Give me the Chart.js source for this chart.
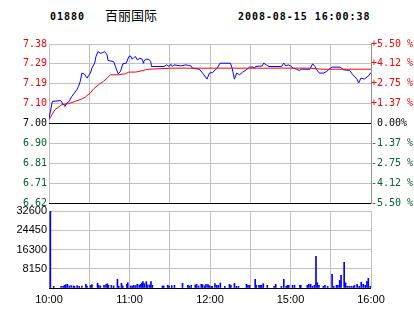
<!DOCTYPE html>
<html><head><meta charset="utf-8">
<script src="https://cdn.jsdelivr.net/npm/chart.js@4"></script>
<style>
html,body{margin:0;padding:0;background:#fff;}
#wrap{position:relative;width:414px;height:314px;overflow:hidden;background:#fff;}
canvas{position:absolute;left:0;top:0;}
.t{position:absolute;top:11px;font:bold 10px "DejaVu Sans Mono";letter-spacing:0.95px;line-height:12px;color:#000;white-space:pre;}
.n{position:absolute;top:5px;left:105px;font:13px "Noto Sans CJK SC";line-height:19px;color:#000;white-space:pre;}
</style></head><body>
<div id="wrap">
<div class="t" id="code" style="left:50px"></div>
<div class="n" id="name"></div>
<div class="t" id="stamp" style="left:238px"></div>
<canvas id="pc" width="414" height="314"></canvas>
<canvas id="vc" width="414" height="314"></canvas>
</div>
<script>
const stockCode = "01880";
const stockName = "百丽国际";
const stamp = "2008-08-15 16:00:38";

// minutes of trading since 10:00 (lunch break removed)
const priceTimes = [0,2.5,8.8,10.7,12,13.3,15,17,19,20.8,22,23.3,24.5,26.5,28.3,29.5,30.8,32,34,35,36.5,38.3,40,41.5,43.3,44,48.2,49.5,51.5,53.3,55,57.5,59.5,60.8,62,63.2,64.5,65.8,67.7,69.5,70.3,70.7,72,74.5,75.8,76.5,85.7,87.8,89.5,90.8,92,93.2,98.3,102,105.8,107,112,114.5,117.8,119.5,122,125.3,127.5,135.2,136.5,138.2,139.9,142,144,147,149.5,152,153.2,154,159,160,162,164,173.3,175,176.5,178.3,180,182,184.5,186.5,188.3,194.5,196.5,198.2,199.5,201.5,204.5,207,208.3,210.8,217,219.5,224,226.5,229.5,230.8,232.5,235,238.3,239.5,240];
const prices = [7.024,7.107,7.111,7.091,7.083,7.100,7.107,7.131,7.148,7.164,7.180,7.204,7.244,7.239,7.220,7.231,7.244,7.268,7.292,7.324,7.348,7.340,7.343,7.348,7.332,7.305,7.300,7.276,7.241,7.252,7.289,7.292,7.324,7.327,7.311,7.319,7.324,7.308,7.316,7.311,7.292,7.300,7.311,7.311,7.300,7.276,7.276,7.284,7.276,7.287,7.276,7.284,7.279,7.284,7.279,7.268,7.263,7.244,7.215,7.244,7.247,7.268,7.292,7.292,7.268,7.215,7.244,7.236,7.247,7.260,7.273,7.273,7.268,7.276,7.279,7.292,7.284,7.276,7.276,7.292,7.279,7.284,7.279,7.268,7.263,7.257,7.263,7.263,7.289,7.276,7.260,7.244,7.244,7.252,7.260,7.273,7.273,7.260,7.257,7.236,7.215,7.196,7.220,7.215,7.231,7.244,7.244];

const avgTimes = [0,4.5,9.5,14.5,19.5,24.5,27,30.8,33.2,37,40.7,43.3,45.8,52,57,59.5,64.5,67,72,74.5,92,135.8,194,203,240];
const avgPrices = [7.019,7.067,7.091,7.096,7.107,7.119,7.128,7.148,7.167,7.188,7.204,7.220,7.236,7.236,7.241,7.249,7.249,7.252,7.260,7.263,7.268,7.268,7.268,7.263,7.263];

const volTimes = [1,3.5,9,10.5,11.5,12.5,13.7,15,16.5,18.2,19,21,22.5,24.5,27.5,28.3,31,32,36.2,37,38.3,41,42.5,43.5,44.3,46.5,48.2,51,52,54,55,58,58.7,60.8,62,63.2,64.5,65.8,67.3,68.5,69.2,70,71,72.5,73.5,75,76,77,84.5,85.5,88.5,89.5,91.5,93.5,99.5,103.5,104.5,106,109,110,111.5,113.5,114.5,116,117,118.5,119.5,121,121.7,123.7,125,126.2,127.7,131,134.5,135.5,138.2,139.7,141.2,147.2,148.3,149.5,153.7,154.5,156.5,157.5,158.5,159.7,162.7,167.8,169,173.2,175,176.8,177.8,178.7,181.5,183,187,187.7,192.5,193.7,195,196.3,197.8,199,200,201.2,204.5,205.7,207.7,211,212.2,214.3,215.3,216.7,217.7,220,221,222.2,223.7,225.2,226.7,227.7,229.7,231.2,232.7,234.2,235.7,237,238,239.5,240];
const volumes = [32600,700,700,700,1100,1400,1550,850,1000,850,700,1000,700,850,1550,850,1100,1400,2000,1100,850,1100,1400,1800,1100,1100,850,3670,700,2000,850,1550,2250,850,850,1130,990,1550,1270,1550,2100,2680,1830,2680,1270,1270,2680,1130,850,850,1130,850,990,1130,1970,1130,850,1130,1270,1550,850,1550,1410,850,1550,1410,990,705,705,1830,1130,1130,2100,705,1550,1130,1970,705,705,1550,1130,1130,3670,1130,1130,1130,1130,1830,1130,705,1550,705,3670,705,1130,1130,1130,1130,1130,1130,1130,1550,1550,705,1130,13400,2250,1130,705,1130,705,5800,705,1130,1130,3250,5350,10900,2250,705,705,705,705,1130,1550,705,2400,1550,1130,2800,4100,705,705];

const priceTickValues = [6.615,6.71125,6.8075,6.90375,7.00,7.09625,7.1925,7.28875,7.385];
const priceTickLabels = ["6.62","6.71","6.81","6.90","7.00","7.10","7.19","7.29","7.38"];
const pctTickLabels = ["-5.50 %","-4.12 %","-2.75 %","-1.37 %"," 0.00%","+1.37 %","+2.75 %","+4.12 %","+5.50 %"];
const volTickValues = [0,8150,16300,24450,32600];
const volTickLabels = ["","8150","16300","24450","32600"];
const timeTickValues = [0,30,60,90,120,150,180,210,240];
const timeTickLabels = ["10:00","","11:00","","12:00","","15:00","","16:00"];

document.getElementById('code').textContent = stockCode;
document.getElementById('name').textContent = stockName;
document.getElementById('stamp').textContent = stamp;

const GRID = '#c0c0c0';
const RED = '#ff0000';
const GREEN = '#006030';
const mono = {family: 'DejaVu Sans Mono', size: 10};
const sans = {family: 'Liberation Sans', size: 11};
const labelColor = (ctx) => ctx.index < 4 ? GREEN : (ctx.index === 4 ? '#000' : RED);

new Chart(document.getElementById('pc'), {
  type: 'line',
  data: {
    datasets: [
      {data: avgTimes.map((t,i)=>({x:t,y:avgPrices[i]})), borderColor: RED, borderWidth: 1, pointRadius: 0, tension: 0, yAxisID: 'y'},
      {data: priceTimes.map((t,i)=>({x:t,y:prices[i]})), borderColor: '#0000ff', borderWidth: 1, pointRadius: 0, tension: 0, yAxisID: 'y'}
    ]
  },
  options: {
    responsive: false, animation: false,
    layout: {padding: {top: 44, bottom: 111, left: 0, right: 0}},
    plugins: {legend: {display: false}, tooltip: {enabled: false}},
    scales: {
      x: {type: 'linear', min: 0, max: 240,
        afterBuildTicks: s => { s.ticks = timeTickValues.map(v=>({value:v})); },
        afterFit: s => { s.height = 0; },
        ticks: {display: false},
        grid: {color: GRID, drawTicks: false},
        border: {display: false}},
      y: {position: 'left', min: 6.615, max: 7.385,
        afterBuildTicks: s => { s.ticks = priceTickValues.map(v=>({value:v})); },
        afterFit: s => { s.width = 49; },
        ticks: {callback: (v,i)=>priceTickLabels[i], color: labelColor, font: mono, padding: 2, autoSkip: false},
        grid: {color: c => (c.index === 0 || c.index === 4) ? '#000' : GRID, drawTicks: false},
        border: {display: false}},
      y2: {position: 'right', min: 6.615, max: 7.385,
        afterBuildTicks: s => { s.ticks = priceTickValues.map(v=>({value:v})); },
        afterFit: s => { s.width = 43; },
        ticks: {callback: (v,i)=>pctTickLabels[i], color: labelColor, font: mono, padding: 0, autoSkip: false},
        grid: {display: false, drawTicks: false},
        border: {display: true, color: '#909090'}}
    }
  }
});

new Chart(document.getElementById('vc'), {
  type: 'bar',
  data: {
    datasets: [{data: volTimes.map((t,i)=>({x:t,y:volumes[i]})), backgroundColor: '#0000ff', borderWidth: 0, barThickness: 1}]
  },
  options: {
    responsive: false, animation: false,
    layout: {padding: {top: 211, bottom: 0, left: 0, right: 43}},
    plugins: {legend: {display: false}, tooltip: {enabled: false}},
    scales: {
      x: {type: 'linear', min: 0, max: 240, offset: false,
        afterBuildTicks: s => { s.ticks = timeTickValues.map(v=>({value:v})); },
        afterFit: s => { s.height = 26; },
        ticks: {callback: (v,i)=>timeTickLabels[i], color: '#000', font: sans, padding: 5, maxRotation: 0, autoSkip: false},
        grid: {color: GRID, drawTicks: false, offset: false},
        border: {display: false}},
      y: {min: 0, max: 32600,
        afterBuildTicks: s => { s.ticks = volTickValues.map(v=>({value:v})); },
        afterFit: s => { s.width = 49; },
        ticks: {callback: (v,i)=>volTickLabels[i], color: '#000', font: sans, padding: 2, autoSkip: false},
        grid: {color: c => c.index === 0 ? '#000' : GRID, drawTicks: false},
        border: {display: false}}
    }
  }
});
</script>
</body></html>
